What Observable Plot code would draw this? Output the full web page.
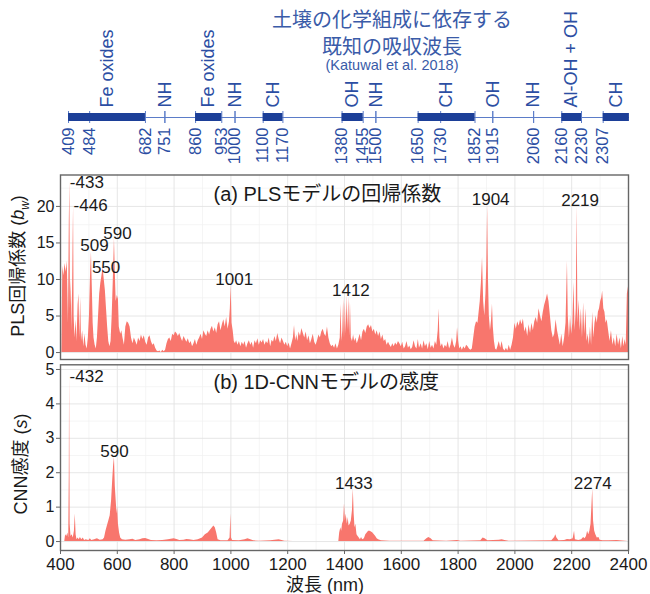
<!DOCTYPE html>
<html><head><meta charset="utf-8">
<script src="https://cdn.jsdelivr.net/npm/d3@7"></script>
<script src="https://cdn.jsdelivr.net/npm/@observablehq/plot@0.6"></script>
<style>
html,body{margin:0;padding:0;background:#fff;}
#wrap{position:relative;width:650px;height:594px;background:#fff;font-family:'Liberation Sans',Arial,'Noto Sans CJK JP',sans-serif;overflow:hidden;}
#wrap svg{position:absolute;left:0;overflow:visible;}
.ov{position:absolute;white-space:nowrap;line-height:1;}
</style></head>
<body><div id="wrap"></div>
<script>
// ---- data ----
const titleLines = ["土壌の化学組成に依存する", "既知の吸収波長", "(Katuwal et al. 2018)"];
const bandTicks = [409, 484, 682, 751, 860, 953, 1000, 1100, 1170, 1380, 1455, 1500, 1650, 1730, 1852, 1915, 2060, 2160, 2230, 2307];
const blockStart = [409, 860, 1100, 1380, 1650, 2160, 2307];
const blockEnd = [682, 953, 1170, 1455, 1852, 2230, 2400];
const blockLabels = ["Fe oxides", "Fe oxides", "CH", "OH", "CH", "Al-OH + OH", "CH"];
const lineWl = [751, 1000, 1500, 1915, 2060];
const lineLabels = ["NH", "NH", "NH", "OH", "NH"];

const xTicks = [400, 600, 800, 1000, 1200, 1400, 1600, 1800, 2000, 2200, 2400];
const xMinor = [500, 700, 900, 1100, 1300, 1500, 1700, 1900, 2100, 2300];
const plsTicks = [0, 5, 10, 15, 20];
const plsMinor = [2.5, 7.5, 12.5, 17.5, 22.5];
const cnnTicks = [0, 1, 2, 3, 4, 5];
const cnnMinor = [0.5, 1.5, 2.5, 3.5, 4.5];

// PLS regression coefficients [wavelength nm, |b_w|]
const plsSpectrum = [
[405,0],[408,11.8],[412,10.5],[416,12.2],[420,11.0],[424,12.5],[428,4.0],[431,18.0],[433,23.4],[435,6.0],
[438,10.0],[441,3.0],[444,14.0],[446,20.1],[448,5.0],[451,2.0],[455,4.5],[458,1.5],[462,6.5],[465,8.0],
[468,2.0],[471,7.5],[474,1.5],[478,3.0],[482,0.8],[486,2.5],[490,1.0],[494,0.5],[498,2.0],[502,5.0],
[506,11.0],[509,13.7],[512,9.0],[515,4.0],[518,2.0],[522,1.0],[526,0.5],[530,2.0],[534,5.0],[538,8.0],
[542,9.5],[546,10.5],[550,11.6],[554,10.0],[558,8.5],[562,6.0],[566,3.5],[570,1.5],[574,0.8],[578,1.5],
[582,5.0],[586,10.0],[590,15.6],[593,11.0],[596,7.0],[600,7.8],[604,7.3],[607,3.5],[612,2.5],[616,3.0],
[620,2.0],[625,1.0],[630,3.5],[635,4.2],[640,4.0],[645,3.5],[650,2.0],[655,1.2],[660,2.0],[665,1.5],
[670,1.0],[675,2.0],[680,1.5],[685,2.4],[690,1.8],[695,2.3],[700,1.4],[705,1.0],[710,2.0],[715,2.3],
[720,1.5],[725,1.0],[730,1.2],[735,0.6],[740,0.2],[745,0.1],[750,0.2],[755,0.0],[760,0.3],[765,0.1],
[770,0.3],[775,1.2],[780,1.8],[785,2.0],[790,1.5],[795,2.5],[800,2.3],[805,2.8],[810,2.6],[815,2.2],
[820,2.6],[825,2.0],[830,1.5],[835,2.2],[840,1.8],[845,1.4],[850,1.9],[855,1.2],[860,1.5],[865,0.8],
[870,1.2],[875,1.8],[880,1.0],[885,1.6],[890,2.0],[895,2.5],[900,1.8],[905,3.0],[910,2.5],[915,2.2],
[920,3.0],[925,2.4],[930,3.2],[935,3.6],[940,2.8],[945,3.4],[950,2.6],[955,3.8],[960,4.2],[965,3.0],
[970,3.8],[975,4.5],[980,3.5],[985,4.8],[990,3.2],[995,4.2],[998,6.0],[1001,9.2],[1004,4.0],[1008,3.0],
[1012,1.5],[1016,1.2],[1020,1.6],[1025,1.0],[1030,1.5],[1035,0.8],[1040,1.4],[1045,1.0],[1050,1.5],[1055,0.6],
[1060,1.2],[1065,1.6],[1070,1.0],[1075,1.4],[1080,0.6],[1085,1.6],[1090,1.2],[1095,1.9],[1100,1.0],[1105,1.6],
[1110,1.3],[1115,1.8],[1120,1.0],[1125,1.5],[1130,1.2],[1135,2.0],[1140,0.8],[1145,1.7],[1150,1.4],[1155,2.2],
[1160,1.5],[1165,2.6],[1170,1.8],[1175,1.2],[1180,2.0],[1185,1.5],[1190,1.0],[1195,1.4],[1200,0.8],[1205,1.3],
[1210,0.5],[1215,1.2],[1220,2.0],[1224,3.7],[1228,1.6],[1232,2.4],[1236,1.5],[1240,2.8],[1245,2.2],[1250,3.3],
[1255,2.6],[1260,2.0],[1265,2.8],[1270,1.6],[1275,2.3],[1280,1.2],[1285,1.8],[1290,2.5],[1295,1.4],[1300,1.0],
[1305,1.6],[1310,2.4],[1315,2.0],[1320,2.8],[1325,3.2],[1330,2.5],[1335,2.2],[1340,3.5],[1345,2.0],[1350,1.2],
[1355,0.8],[1360,1.0],[1365,0.6],[1370,1.2],[1375,0.5],[1380,1.0],[1385,2.0],[1388,6.6],[1391,1.5],[1394,3.0],
[1397,7.4],[1400,2.0],[1403,6.8],[1406,2.5],[1409,7.8],[1412,3.0],[1415,7.6],[1418,2.2],[1421,6.9],[1424,2.0],
[1428,1.5],[1432,2.4],[1436,1.5],[1440,2.0],[1445,1.2],[1450,1.8],[1455,2.5],[1460,1.6],[1465,2.8],[1470,3.2],
[1475,2.6],[1480,3.5],[1485,3.8],[1490,3.3],[1495,3.7],[1500,2.8],[1505,3.2],[1510,2.4],[1515,3.0],[1520,2.2],
[1525,2.8],[1530,1.8],[1535,2.4],[1540,1.5],[1545,1.8],[1550,1.0],[1555,1.4],[1560,1.0],[1565,0.7],[1570,1.2],
[1575,0.8],[1580,1.3],[1585,1.0],[1590,1.5],[1595,1.2],[1600,0.8],[1605,1.4],[1610,0.5],[1615,0.8],[1620,1.5],
[1625,0.6],[1630,0.9],[1635,0.4],[1640,0.7],[1645,1.6],[1650,0.8],[1655,0.5],[1660,1.8],[1664,0.6],[1670,1.2],
[1675,0.5],[1680,1.6],[1685,0.8],[1690,1.2],[1695,0.4],[1700,1.5],[1705,0.6],[1710,1.0],[1715,0.5],[1720,1.5],
[1725,1.0],[1730,3.0],[1733,6.0],[1736,2.0],[1740,0.8],[1745,1.2],[1750,0.5],[1755,1.0],[1760,0.7],[1765,1.5],
[1770,0.5],[1775,1.0],[1780,2.0],[1785,1.0],[1790,0.6],[1795,1.5],[1798,3.4],[1802,1.5],[1806,0.5],[1810,0.8],
[1815,0.3],[1820,0.8],[1825,0.5],[1830,1.0],[1835,0.8],[1840,0.5],[1845,0.3],[1850,0.5],[1855,2.0],[1860,3.5],
[1865,4.2],[1870,4.0],[1874,5.5],[1878,7.0],[1882,9.5],[1886,13.0],[1890,7.0],[1894,5.0],[1898,8.0],[1901,12.0],
[1904,20.2],[1907,10.0],[1910,5.0],[1914,3.0],[1918,4.5],[1921,6.6],[1924,3.5],[1928,1.5],[1932,0.5],[1936,0.3],
[1940,0.8],[1945,1.5],[1950,0.6],[1955,1.5],[1960,0.5],[1965,0.2],[1970,0.6],[1975,0.2],[1980,1.0],[1985,0.3],
[1990,1.0],[1995,2.0],[2000,4.0],[2005,3.2],[2010,4.2],[2015,3.6],[2020,4.5],[2025,3.8],[2030,4.6],[2035,2.8],
[2040,3.5],[2045,2.2],[2050,3.8],[2055,2.6],[2060,4.0],[2065,3.0],[2070,4.2],[2075,4.8],[2080,4.0],[2085,6.0],
[2090,5.0],[2095,4.2],[2100,5.5],[2105,6.5],[2110,7.2],[2115,8.0],[2120,7.0],[2125,5.0],[2130,3.0],[2135,2.0],
[2140,2.5],[2145,4.5],[2150,3.0],[2155,2.0],[2160,1.0],[2165,2.5],[2170,0.8],[2175,2.0],[2180,4.0],[2185,12.5],
[2188,5.0],[2192,2.0],[2196,5.0],[2200,2.5],[2204,4.0],[2208,9.6],[2212,3.0],[2216,6.0],[2219,20.1],[2222,4.0],
[2226,7.2],[2230,3.0],[2234,6.0],[2238,2.0],[2242,6.8],[2246,2.5],[2250,6.0],[2254,1.5],[2258,2.5],[2262,1.0],
[2266,3.5],[2270,1.0],[2274,5.5],[2278,2.0],[2282,4.0],[2286,5.0],[2290,4.0],[2294,5.5],[2298,6.0],[2302,7.0],
[2306,7.5],[2309,8.4],[2313,6.0],[2317,5.5],[2321,4.0],[2325,4.5],[2330,3.0],[2335,1.5],[2340,3.0],[2345,1.0],
[2350,2.0],[2355,0.8],[2360,2.5],[2365,1.0],[2370,2.0],[2375,0.5],[2380,2.2],[2384,0.8],[2388,1.8],[2392,1.0],
[2396,8.0],[2400,9.0]
];

// 1D-CNN sensitivity [wavelength nm, s]
const cnnSpectrum = [
[400,0],[415,0.0],[418,0.2],[422,0.15],[426,0.25],[429,0.1],[431,2.0],[432,4.87],[434,0.5],[437,0.15],
[441,0.2],[445,0.1],[449,0.3],[452,0.8],[455,0.2],[458,0.05],[462,0.1],[466,0.05],[470,0.12],[475,0.05],
[480,0.1],[485,0.03],[490,0.05],[500,0.03],[505,0.08],[510,0.03],[520,0.05],[530,0.08],[540,0.04],[550,0.05],
[555,0.1],[560,0.3],[565,0.45],[570,0.6],[575,0.75],[580,1.2],[584,1.8],[587,2.2],[590,2.45],[593,1.6],
[596,1.2],[599,0.8],[601,1.0],[604,0.5],[608,0.25],[612,0.1],[618,0.05],[630,0.04],[645,0.05],[655,0.07],
[665,0.03],[680,0.05],[690,0.08],[700,0.09],[710,0.06],[720,0.03],[740,0.02],[760,0.03],[780,0.05],[790,0.07],
[800,0.08],[810,0.06],[820,0.03],[835,0.04],[845,0.06],[855,0.05],[870,0.03],[885,0.05],[900,0.1],[910,0.2],
[920,0.25],[930,0.35],[940,0.45],[945,0.4],[950,0.25],[955,0.05],[965,0.02],[990,0.02],[997,0.1],[1000,0.8],
[1002,0.1],[1006,0.03],[1030,0.02],[1050,0.05],[1060,0.08],[1070,0.05],[1080,0.02],[1100,0.01],[1140,0.02],[1155,0.04],
[1170,0.05],[1180,0.03],[1190,0.01],[1220,0.0],[1380,0.0],[1383,0.25],[1387,0.4],[1390,0.3],[1393,0.5],[1397,0.6],
[1400,1.1],[1403,0.6],[1406,0.8],[1410,0.5],[1413,0.7],[1416,0.45],[1420,0.5],[1424,0.6],[1428,0.9],[1431,1.53],
[1434,0.8],[1437,0.4],[1440,0.5],[1444,0.2],[1448,0.15],[1452,0.1],[1456,0.05],[1460,0.12],[1464,0.05],[1470,0.08],
[1475,0.2],[1480,0.25],[1485,0.3],[1490,0.3],[1495,0.28],[1500,0.25],[1505,0.2],[1510,0.15],[1515,0.08],[1520,0.05],
[1530,0.02],[1560,0.01],[1680,0.01],[1690,0.08],[1697,0.12],[1705,0.08],[1712,0.02],[1760,0.01],[1798,0.03],[1810,0.01],
[1880,0.02],[1888,0.1],[1895,0.08],[1905,0.02],[1945,0.04],[1955,0.05],[1965,0.03],[1980,0.01],[2130,0.02],[2140,0.12],
[2144,0.2],[2148,0.1],[2155,0.02],[2175,0.03],[2185,0.06],[2195,0.05],[2205,0.08],[2210,0.3],[2213,0.05],[2225,0.03],
[2235,0.05],[2242,0.12],[2247,0.08],[2252,0.15],[2256,0.3],[2260,0.2],[2264,0.3],[2268,0.5],[2271,1.0],[2274,1.53],
[2277,0.6],[2281,0.3],[2285,0.2],[2290,0.1],[2296,0.12],[2300,0.04],[2310,0.02],[2330,0.02],[2360,0.03],[2400,0.0]
];

// peak annotations (label anchor wavelength, value)
const plsLeadWl = [433, 446];
const plsLeadVal = [23.3, 20.1];
const plsPeakWl = [509, 550, 590, 1001, 1412, 1904, 2219];
const plsPeakVal = [13.9, 10.9, 15.6, 9.2, 7.8, 20.2, 20.1];
const cnnLeadWl = [432];
const cnnLeadVal = [4.8];
const cnnPeakWl = [590, 1433, 2274];
const cnnPeakVal = [2.45, 1.53, 1.53];

const panelTitles = ["(a) PLSモデルの回帰係数", "(b) 1D-CNNモデルの感度"];

// ---- drawing ----
const FONT = "'Liberation Sans', Arial, 'Noto Sans CJK JP', sans-serif";
const AREA = "#F8766D";
const GRID = "#e3e3e3", GRIDMIN = "#f0f0f0", FRAME = "#666", INK = "#1a1a1a";
const BAND_LINE = "#5b7cc8", BAND_BLOCK = "#1c3f98", BAND_TEXT = "#2c4ea3";
const wrap = document.getElementById("wrap");
const pls = plsSpectrum.map(([wl, v]) => ({wl, v}));
const cnn = cnnSpectrum.map(([wl, v]) => ({wl, v}));
const toPts = (w, v) => w.map((wl, i) => ({wl, v: v[i]}));

function place(el, top) { el.style.top = top + "px"; wrap.appendChild(el); }
function ov(html, css) { const d = document.createElement("div"); d.className = "ov"; d.innerHTML = html; d.style.cssText += css; wrap.appendChild(d); return d; }

// band of known absorption wavelengths
const blocks = blockStart.map((s, i) => ({s, e: blockEnd[i], label: blockLabels[i], mid: (s + blockEnd[i]) / 2}));
const lines = lineWl.map((wl, i) => ({wl, label: lineLabels[i]}));
const band = Plot.plot({
  width: 650, height: 170, marginLeft: 65.5, marginRight: 21.1, marginTop: 97, marginBottom: 33,
  x: {domain: [400, 2400], axis: null},
  y: {domain: [-1, 1], axis: null},
  style: {fontFamily: FONT, background: "transparent", overflow: "visible"},
  marks: [
    Plot.ruleY([0], {x1: bandTicks[0], x2: blockEnd[blockEnd.length - 1], stroke: BAND_LINE, strokeWidth: 1.2}),
    Plot.ruleX(bandTicks, {y1: -0.3, y2: 0.3, stroke: BAND_LINE, strokeWidth: 1}),
    Plot.ruleX(lineWl, {y1: -0.3, y2: 0.3, stroke: BAND_LINE, strokeWidth: 1}),
    Plot.rect(blocks, {x1: "s", x2: "e", y1: -0.2, y2: 0.2, fill: BAND_BLOCK}),
    Plot.text(bandTicks, {x: d => d, y: -0.5, text: d => String(d), rotate: -90, textAnchor: "end", lineAnchor: "middle", fill: BAND_TEXT, fontSize: 16.5}),
    Plot.text(blocks, {x: "mid", y: 0.5, text: "label", rotate: -90, textAnchor: "start", lineAnchor: "middle", fill: BAND_TEXT, fontSize: 18}),
    Plot.text(lines, {x: "wl", y: 0.5, text: "label", rotate: -90, textAnchor: "start", lineAnchor: "middle", fill: BAND_TEXT, fontSize: 18})
  ]
});
place(band, 0);

ov(titleLines[0], "left:192px;width:400px;text-align:center;top:10px;font-size:20px;color:#3a5ba8;");
ov(titleLines[1], "left:192px;width:400px;text-align:center;top:37px;font-size:20px;color:#3a5ba8;");
ov(titleLines[2], "left:192px;width:400px;text-align:center;top:58px;font-size:14.5px;color:#3a5ba8;");

function panel({data, domain, ticks, minor, height, marginTop, marginBottom, xAxis, leads, peaks, title, titleDy, peakDx}) {
  const marks = [
    Plot.ruleX(xMinor, {stroke: GRIDMIN, strokeWidth: 0.7}),
    Plot.ruleY(minor, {stroke: GRIDMIN, strokeWidth: 0.7}),
    Plot.ruleX(xTicks, {stroke: GRID, strokeWidth: 0.9}),
    Plot.ruleY(ticks, {stroke: GRID, strokeWidth: 0.9}),
    Plot.areaY(data, {x: "wl", y: "v", fill: AREA, curve: "linear"}),
    Plot.axisY({ticks, tickFormat: d => String(d), tickSize: 4, tickPadding: 2, fontSize: 16, stroke: FRAME, fill: INK, label: null}),
    Plot.frame({stroke: FRAME, strokeWidth: 1.4}),
    Plot.text(leads, {x: "wl", y: "v", text: d => "-" + d.wl, textAnchor: "start", lineAnchor: "middle", fontSize: 17, fill: INK}),
    Plot.text(peaks, {x: "wl", y: "v", text: d => String(d.wl), textAnchor: "middle", lineAnchor: "bottom", dx: peakDx, dy: 0, fontSize: 17, fill: INK}),
    Plot.text([title], {frameAnchor: "top-left", dx: 153, dy: titleDy, textAnchor: "start", lineAnchor: "middle", fontSize: 20, fill: INK})
  ];
  if (xAxis) marks.push(Plot.axisX({ticks: xTicks, tickFormat: d => String(d), tickSize: 4, tickPadding: 3, fontSize: 17, stroke: FRAME, fill: INK, label: null}));
  return Plot.plot({
    width: 650, height, marginLeft: 60, marginRight: 22, marginTop, marginBottom,
    x: {domain: [400, 2400], axis: null},
    y: {domain, axis: null},
    style: {fontFamily: FONT, background: "transparent", overflow: "visible"},
    marks
  });
}

const pa = panel({data: pls, domain: [-0.95, 24.3], ticks: plsTicks, minor: plsMinor, height: 190, marginTop: 4.5, marginBottom: 1,
  xAxis: false, leads: toPts(plsLeadWl, plsLeadVal), peaks: toPts(plsPeakWl, plsPeakVal), title: panelTitles[0], titleDy: 19.5, peakDx: 3});
place(pa, 170);

const pb = panel({data: cnn, domain: [-0.26, 5.136], ticks: cnnTicks, minor: cnnMinor, height: 232, marginTop: 2.3, marginBottom: 44,
  xAxis: true, leads: toPts(cnnLeadWl, cnnLeadVal), peaks: toPts(cnnPeakWl, cnnPeakVal), title: panelTitles[1], titleDy: 17.7, peakDx: 0});
place(pb, 362);

// axis titles
ov("PLS回帰係数 (<i>b</i><sub style='font-size:12px'><i>w</i></sub>)", "left:20px;top:266px;font-size:18px;color:#1a1a1a;transform:translate(-50%,-50%) rotate(-90deg);");
ov("CNN感度 (<i>s</i>)", "left:21px;top:464px;font-size:18px;color:#1a1a1a;transform:translate(-50%,-50%) rotate(-90deg);");
ov("波長 (nm)", "left:325px;top:585px;font-size:18px;color:#1a1a1a;transform:translate(-50%,-50%);");
</script></body></html>
